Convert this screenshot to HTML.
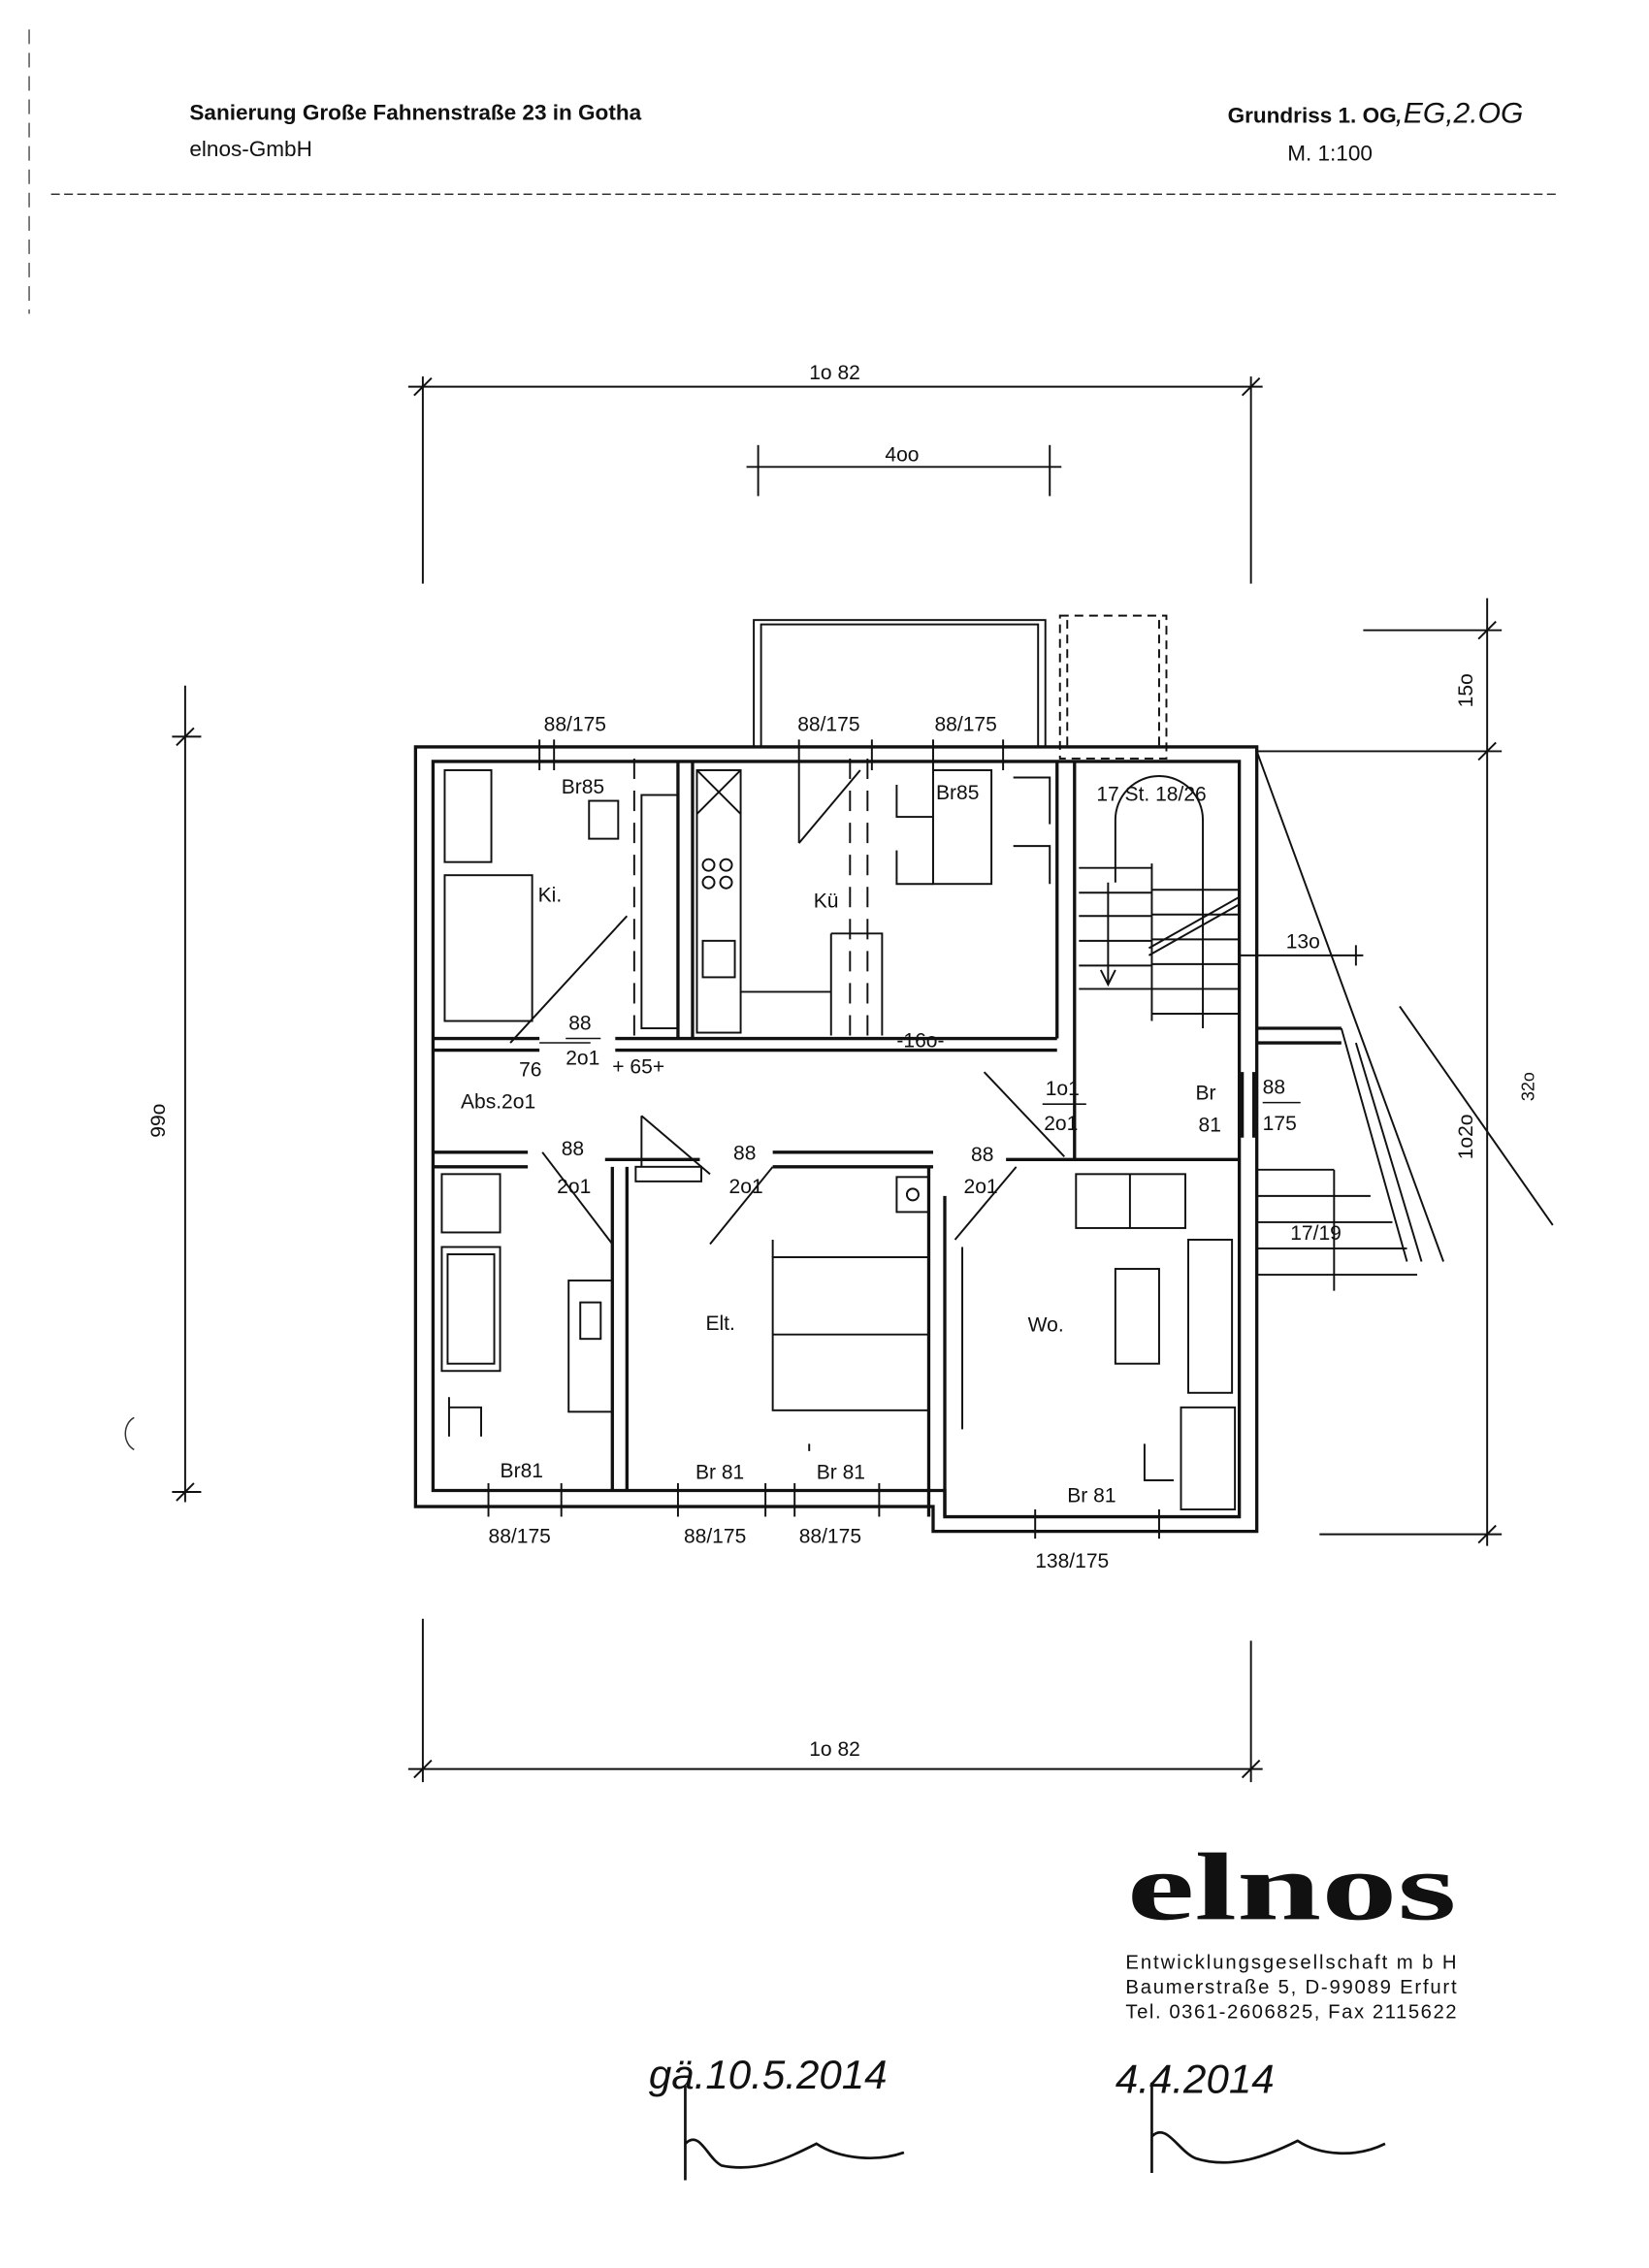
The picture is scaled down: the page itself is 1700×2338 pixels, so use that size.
<!DOCTYPE html>
<html><head><meta charset="utf-8"><style>
html,body{margin:0;padding:0;background:#fff}
svg{display:block}
text{font-family:"Liberation Sans",sans-serif;fill:#111}
</style></head><body>
<svg width="1700" height="2338" viewBox="0 0 1131 1555" xmlns="http://www.w3.org/2000/svg">
<rect width="1131" height="1555" fill="#fff"/>
<text x="130" y="82" font-size="15" font-weight="bold">Sanierung Große Fahnenstraße 23 in Gotha</text>
<text x="130" y="107" font-size="15">elnos-GmbH</text>
<text x="842" y="84" font-size="15" font-weight="bold">Grundriss 1. OG</text>
<text x="957" y="84" font-size="20" font-style="italic">,EG,2.OG</text>
<text x="883" y="110" font-size="15">M. 1:100</text>
<line x1="35" y1="133" x2="1070" y2="133" stroke="#333" stroke-width="1" stroke-dasharray="6,3"/>
<line x1="20" y1="20" x2="20" y2="215" stroke="#555" stroke-width="1" stroke-dasharray="10,6"/>
<path d="M92 972 a10 12 0 0 0 0 22" fill="none" stroke="#333"/>

<g stroke="#111" fill="none" stroke-width="1.3">
<line x1="280" y1="265" x2="866" y2="265"/>
<line x1="290" y1="258" x2="290" y2="400"/><line x1="858" y1="258" x2="858" y2="400"/>
<line x1="284" y1="271" x2="296" y2="259"/><line x1="852" y1="271" x2="864" y2="259"/>
<line x1="512" y1="320" x2="728" y2="320"/>
<line x1="520" y1="305" x2="520" y2="340"/><line x1="720" y1="305" x2="720" y2="340"/>
<line x1="280" y1="1213" x2="866" y2="1213"/>
<line x1="290" y1="1110" x2="290" y2="1222"/><line x1="858" y1="1125" x2="858" y2="1222"/>
<line x1="284" y1="1219" x2="296" y2="1207"/><line x1="852" y1="1219" x2="864" y2="1207"/>
<line x1="127" y1="470" x2="127" y2="1030"/>
<line x1="118" y1="505" x2="138" y2="505"/><line x1="118" y1="1023" x2="138" y2="1023"/>
<line x1="121" y1="511" x2="133" y2="499"/><line x1="121" y1="1029" x2="133" y2="1017"/>
<line x1="1020" y1="410" x2="1020" y2="1060"/>
<line x1="935" y1="432" x2="1030" y2="432"/><line x1="862" y1="515" x2="1030" y2="515"/>
<line x1="905" y1="1052" x2="1030" y2="1052"/>
<line x1="1014" y1="438" x2="1026" y2="426"/><line x1="1014" y1="521" x2="1026" y2="509"/><line x1="1014" y1="1058" x2="1026" y2="1046"/>
<line x1="960" y1="690" x2="1065" y2="840"/>
<line x1="850" y1="655" x2="935" y2="655"/><line x1="930" y1="648" x2="930" y2="662"/>

<rect x="517" y="425" width="200" height="87"/>
<rect x="522" y="428" width="190" height="84"/>
<rect x="727" y="422" width="73" height="98" stroke-dasharray="6,4"/>
<line x1="732" y1="425" x2="732" y2="515" stroke-dasharray="6,4"/>
<line x1="795" y1="425" x2="795" y2="515" stroke-dasharray="6,4"/>

<g stroke-width="2.2">
<path d="M285 512 H862 V1050 H640 V1033 H285 Z"/>
<path d="M297 522 H850 V1040 H648 V1022 H297 Z"/>
<path d="M297 712 H370 M297 720 H370"/>
<path d="M422 712 H725 M422 720 H725"/>
<path d="M725 522 V712 M737 522 V795"/>
<path d="M297 790 H362 M297 800 H362"/>
<path d="M415 795 H480 M530 790 H640 M530 800 H640"/>
<path d="M690 795 H850"/>
<path d="M420 800 V1022 M430 800 V1022"/>
<path d="M637 800 V1040 M648 820 V1040"/>
<path d="M465 522 V712 M475 522 V712"/>
<path d="M852 735 V780 M860 735 V780"/>
<path d="M862 705 H920 M862 715 H920"/>
</g>
<path d="M370 507 V528 M380 507 V528 M548 507 V528 M598 507 V528 M640 507 V528 M688 507 V528"/>
<path d="M335 1017 V1040 M385 1017 V1040 M465 1017 V1040 M525 1017 V1040 M545 1017 V1040 M603 1017 V1040 M710 1035 V1055 M795 1035 V1055"/>
<line x1="350" y1="715" x2="430" y2="628"/>
<line x1="372" y1="790" x2="420" y2="853"/>
<line x1="440" y1="765" x2="487" y2="805"/><line x1="440" y1="765" x2="440" y2="800"/>
<line x1="487" y1="853" x2="530" y2="800"/>
<line x1="655" y1="850" x2="697" y2="800"/>
<line x1="675" y1="735" x2="730" y2="793"/>
<line x1="548" y1="578" x2="590" y2="528"/><line x1="548" y1="528" x2="548" y2="578"/>
<line x1="435" y1="520" x2="435" y2="710" stroke-dasharray="14,8"/>
<line x1="583" y1="520" x2="583" y2="712" stroke-dasharray="14,8"/>
<line x1="595" y1="520" x2="595" y2="712" stroke-dasharray="14,8"/>
<rect x="305" y="528" width="32" height="63"/>
<rect x="305" y="600" width="60" height="100"/>
<rect x="404" y="549" width="20" height="26"/>
<rect x="440" y="545" width="25" height="160"/>
<rect x="478" y="528" width="30" height="180"/>
<path d="M478 528 L508 558 M508 528 L478 558"/>
<circle cx="486" cy="593" r="4"/><circle cx="498" cy="593" r="4"/><circle cx="486" cy="605" r="4"/><circle cx="498" cy="605" r="4"/>
<rect x="482" y="645" width="22" height="25"/>
<path d="M508 680 H570 M570 640 V710 M570 640 H605 V710"/>
<rect x="640" y="528" width="40" height="78"/>
<path d="M615 538 V560 H640 M615 583 V606 H640 M695 533 H720 V565 M695 580 H720 V606"/>
<path d="M765 605 V562 A30 30 0 0 1 825 562 V705"/>
<path d="M760 605 V675 M755 665 L760 675 L765 665"/>
<path d="M790 592 V700 M740 595 H790 M740 612 H790 M740 628 H790 M740 645 H790 M740 662 H790 M740 678 H790 M790 610 H850 M790 627 H850 M790 644 H850 M790 661 H850 M790 678 H850 M790 695 H850"/>
<path d="M788 650 L850 615 M788 655 L850 620"/>
<path d="M862 802 H915 M862 820 H940 M862 838 H955 M862 856 H965 M862 874 H972"/>
<path d="M862 515 L990 865 M920 705 L965 865 M930 715 L975 865"/>
<line x1="915" y1="802" x2="915" y2="885"/>
<rect x="303" y="805" width="40" height="40"/>
<rect x="303" y="855" width="40" height="85"/>
<rect x="307" y="860" width="32" height="75"/>
<rect x="390" y="878" width="30" height="90"/>
<rect x="398" y="893" width="14" height="25"/>
<path d="M308 958 V985 M308 965 H330 V985"/>
<rect x="436" y="800" width="45" height="10"/>
<rect x="615" y="807" width="22" height="24"/><circle cx="626" cy="819" r="4"/>
<rect x="530" y="862" width="107" height="105"/>
<line x1="530" y1="915" x2="637" y2="915"/>
<path d="M530 850 V862 M555 990 V995"/>
<rect x="738" y="805" width="75" height="37"/><line x1="775" y1="805" x2="775" y2="842"/>
<rect x="765" y="870" width="30" height="65"/>
<rect x="815" y="850" width="30" height="105"/>
<rect x="810" y="965" width="37" height="70"/>
<path d="M660 855 V980 M785 990 V1015 H805"/>
</g>

<g font-size="14">
<text x="555" y="260">1o 82</text>
<text x="607" y="316">4oo</text>
<text x="555" y="1204">1o 82</text>
<text transform="translate(113,780) rotate(-90)">99o</text>
<text transform="translate(1010,485) rotate(-90)">15o</text>
<text transform="translate(1010,795) rotate(-90)">1o2o</text>
<text transform="translate(1052,755) rotate(-90)" font-size="12">32o</text>
<text x="882" y="650">13o</text>
<text x="373" y="501">88/175</text>
<text x="547" y="501">88/175</text>
<text x="641" y="501">88/175</text>
<text x="385" y="544">Br85</text>
<text x="642" y="548">Br85</text>
<text x="752" y="549">17 St. 18/26</text>
<text x="369" y="618">Ki.</text>
<text x="558" y="622">Kü</text>
<text x="390" y="706">88</text><text x="388" y="730">2o1</text>
<text x="356" y="738">76</text>
<text x="316" y="760">Abs.2o1</text>
<text x="420" y="736">+ 65+</text>
<text x="615" y="718">-16o-</text>
<text x="717" y="751">1o1</text><text x="716" y="775">2o1</text>
<text x="820" y="754">Br</text><text x="822" y="776">81</text>
<text x="866" y="750">88</text><text x="866" y="775">175</text>
<text x="885" y="850">17/19</text>
<text x="385" y="792">88</text><text x="382" y="818">2o1</text>
<text x="503" y="795">88</text><text x="500" y="818">2o1</text>
<text x="666" y="796">88</text><text x="661" y="818">2o1</text>
<text x="484" y="912">Elt.</text>
<text x="705" y="913">Wo.</text>
<text x="343" y="1013">Br81</text>
<text x="477" y="1014">Br 81</text>
<text x="560" y="1014">Br 81</text>
<text x="732" y="1030">Br 81</text>
<text x="335" y="1058">88/175</text>
<text x="469" y="1058">88/175</text>
<text x="548" y="1058">88/175</text>
<text x="710" y="1075">138/175</text>
</g>
<line x1="370" y1="715" x2="405" y2="715" stroke="#111"/><line x1="388" y1="712" x2="412" y2="712" stroke="#111"/>
<line x1="715" y1="757" x2="745" y2="757" stroke="#111"/><line x1="866" y1="756" x2="892" y2="756" stroke="#111"/>

<text x="773" y="1316" style="font-family:'Liberation Serif',serif" font-size="66" font-weight="bold" textLength="226" lengthAdjust="spacingAndGlyphs">elnos</text>
<text x="772" y="1350" font-size="13.5" textLength="227" lengthAdjust="spacing">Entwicklungsgesellschaft m b H</text>
<text x="772" y="1367" font-size="13.5" textLength="227" lengthAdjust="spacing">Baumerstraße 5, D-99089 Erfurt</text>
<text x="772" y="1384" font-size="13.5" textLength="227" lengthAdjust="spacing">Tel. 0361-2606825, Fax 2115622</text>

<text x="445" y="1432" font-size="28" font-style="italic">gä.10.5.2014</text>
<text x="765" y="1435" font-size="28" font-style="italic">4.4.2014</text>
<path d="M470 1430 V1495 M470 1470 C480 1460 485 1480 495 1485 C520 1490 540 1480 560 1470 C575 1480 600 1483 620 1476" fill="none" stroke="#111" stroke-width="1.8"/>
<path d="M790 1428 V1490 M790 1465 C800 1455 808 1475 820 1480 C845 1488 870 1478 890 1468 C905 1478 930 1480 950 1470" fill="none" stroke="#111" stroke-width="1.8"/>
</svg>
</body></html>
